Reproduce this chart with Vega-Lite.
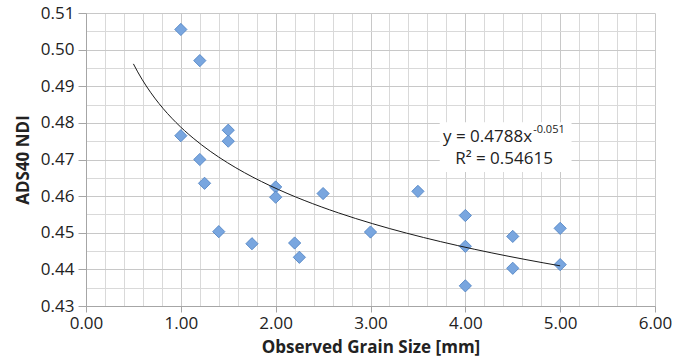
{
  "$schema": "https://vega.github.io/schema/vega-lite/v6.json",
  "width": 569,
  "height": 293,
  "autosize": "none",
  "padding": {"left": 86, "top": 13, "right": 31, "bottom": 56},
  "background": "white",
  "config": {"view": {"stroke": null}, "font": "Open Sans"},
  "resolve": {"axis": {"x": "independent", "y": "independent"}},
  "datasets": {
    "pts": [
      {"size": 1.0, "ndi": 0.5055},
      {"size": 1.2, "ndi": 0.497},
      {"size": 1.0, "ndi": 0.4765},
      {"size": 1.2, "ndi": 0.470},
      {"size": 1.25, "ndi": 0.4635},
      {"size": 1.5, "ndi": 0.478},
      {"size": 1.5, "ndi": 0.475},
      {"size": 1.4, "ndi": 0.4503},
      {"size": 1.75, "ndi": 0.447},
      {"size": 2.0, "ndi": 0.4625},
      {"size": 2.0, "ndi": 0.4597},
      {"size": 2.2, "ndi": 0.4472},
      {"size": 2.25, "ndi": 0.4433},
      {"size": 2.5, "ndi": 0.4607},
      {"size": 3.0, "ndi": 0.4502},
      {"size": 3.5, "ndi": 0.4613},
      {"size": 4.0, "ndi": 0.4547},
      {"size": 4.0, "ndi": 0.4463},
      {"size": 4.0, "ndi": 0.4355},
      {"size": 4.5, "ndi": 0.449},
      {"size": 4.5, "ndi": 0.4403},
      {"size": 5.0, "ndi": 0.4512},
      {"size": 5.0, "ndi": 0.4413}
    ]
  },
  "encoding": {
    "x": {"field": "size", "type": "quantitative", "scale": {"domain": [0, 6], "nice": false, "zero": false}, "axis": null},
    "y": {"field": "ndi", "type": "quantitative", "scale": {"domain": [0.43, 0.51], "nice": false, "zero": false}, "axis": null}
  },
  "layer": [
    {
      "data": {"name": "pts"},
      "mark": {"type": "point", "opacity": 0},
      "encoding": {
        "x": {
          "field": "size", "type": "quantitative",
          "scale": {"domain": [0, 6], "nice": false, "zero": false},
          "axis": {
            "orient": "bottom",
            "values": [0.2, 0.4, 0.6, 0.8, 1.2, 1.4, 1.6, 1.8, 2.2, 2.4, 2.6, 2.8, 3.2, 3.4, 3.6, 3.8, 4.2, 4.4, 4.6, 4.8, 5.2, 5.4, 5.6, 5.8],
            "grid": true, "gridColor": "#d9d9d9", "gridWidth": 1,
            "labels": false, "ticks": false, "domain": false, "title": null
          }
        },
        "y": {
          "field": "ndi", "type": "quantitative",
          "scale": {"domain": [0.43, 0.51], "nice": false, "zero": false},
          "axis": {
            "orient": "left",
            "values": [0.435, 0.445, 0.455, 0.465, 0.475, 0.485, 0.495, 0.505],
            "grid": true, "gridColor": "#d9d9d9", "gridWidth": 1,
            "labels": false, "ticks": false, "domain": false, "title": null
          }
        }
      }
    },
    {
      "data": {"name": "pts"},
      "mark": {"type": "point", "shape": "diamond", "filled": true, "size": 150, "fill": "#79a6df", "stroke": "#4a7fc1", "strokeWidth": 0.8, "opacity": 1},
      "encoding": {
        "x": {
          "field": "size", "type": "quantitative",
          "scale": {"domain": [0, 6], "nice": false, "zero": false},
          "axis": {
            "orient": "bottom",
            "values": [0, 1, 2, 3, 4, 5, 6],
            "format": ".2f",
            "labelOverlap": false, "labelFlush": false, "labelBound": false,
            "labelFontSize": 17, "labelColor": "#222222", "labelPadding": 3,
            "tickSize": 6, "tickColor": "#a6a6a6",
            "grid": true, "gridColor": "#c8c8c8", "gridWidth": 1,
            "domainColor": "#a6a6a6",
            "title": "Observed Grain Size [mm]",
            "titleFontSize": 17, "titleFontWeight": "bold", "titleColor": "#222222", "titlePadding": 8
          }
        },
        "y": {
          "field": "ndi", "type": "quantitative",
          "scale": {"domain": [0.43, 0.51], "nice": false, "zero": false},
          "axis": {
            "orient": "left",
            "values": [0.43, 0.44, 0.45, 0.46, 0.47, 0.48, 0.49, 0.5, 0.51],
            "format": ".2f",
            "labelOverlap": false, "labelFlush": false, "labelBound": false,
            "labelFontSize": 17, "labelColor": "#222222", "labelPadding": 4,
            "tickSize": 8, "tickColor": "#a6a6a6",
            "grid": true, "gridColor": "#c8c8c8", "gridWidth": 1,
            "domainColor": "#a6a6a6",
            "title": "ADS40 NDI",
            "titleFontSize": 17, "titleFontWeight": "bold", "titleColor": "#222222", "titlePadding": 8
          }
        }
      }
    },
    {
      "data": {"name": "pts"},
      "transform": [
        {"regression": "ndi", "on": "size", "method": "pow", "extent": [0.5, 5]}
      ],
      "mark": {"type": "line", "color": "#1a1a1a", "strokeWidth": 1}
    },
    {
      "data": {"values": [{"size": 3.73, "size2": 5.12, "ndi": 0.4666, "ndi2": 0.4802}]},
      "mark": {"type": "rect", "fill": "white"},
      "encoding": {
        "x2": {"field": "size2"},
        "y2": {"field": "ndi2"}
      }
    },
    {
      "data": {"values": [
        {"size": 3.765, "ndi": 0.4761, "t": "y = 0.4788x", "fs": 17, "al": "left"},
        {"size": 4.715, "ndi": 0.4781, "t": "-0.051", "fs": 11, "al": "left"},
        {"size": 4.408, "ndi": 0.4701, "t": "R² = 0.54615", "fs": 17, "al": "center"}
      ]},
      "layer": [
        {
          "transform": [{"filter": "datum.al === 'left'"}],
          "mark": {"type": "text", "align": "left", "baseline": "middle", "color": "#222222"},
          "encoding": {
            "text": {"field": "t"},
            "size": {"field": "fs", "type": "quantitative", "scale": null}
          }
        },
        {
          "transform": [{"filter": "datum.al === 'center'"}],
          "mark": {"type": "text", "align": "center", "baseline": "middle", "color": "#222222"},
          "encoding": {
            "text": {"field": "t"},
            "size": {"field": "fs", "type": "quantitative", "scale": null}
          }
        }
      ]
    }
  ]
}
